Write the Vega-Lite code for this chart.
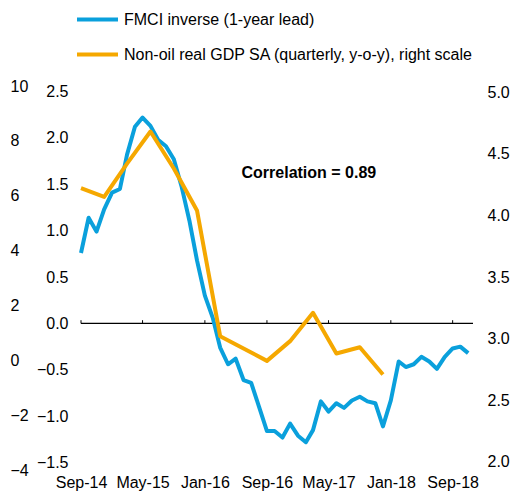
{
  "$schema": "https://vega.github.io/schema/vega-lite/v6.json",
  "width": 392,
  "height": 384,
  "autosize": {"type": "none"},
  "padding": {"left": 81, "top": 86, "right": 44, "bottom": 27},
  "background": "white",
  "config": {
    "view": {"stroke": null},
    "font": "Liberation Sans",
    "axis": {"labelFont": "Liberation Sans", "labelFontSize": 16, "labelColor": "#000000", "grid": false, "domain": false, "ticks": false},
    "legend": {"labelFont": "Liberation Sans", "labelFontSize": 16, "labelColor": "#000000", "labelLimit": 0}
  },
  "datasets": {
    "fmci": [
      {"date": "2014-09-01", "fmci": 0.76},
      {"date": "2014-10-01", "fmci": 1.14},
      {"date": "2014-11-01", "fmci": 0.99},
      {"date": "2014-12-01", "fmci": 1.23},
      {"date": "2015-01-01", "fmci": 1.41},
      {"date": "2015-02-01", "fmci": 1.45},
      {"date": "2015-03-01", "fmci": 1.82},
      {"date": "2015-04-01", "fmci": 2.12},
      {"date": "2015-05-01", "fmci": 2.22},
      {"date": "2015-06-01", "fmci": 2.13},
      {"date": "2015-07-01", "fmci": 1.98},
      {"date": "2015-08-01", "fmci": 1.91},
      {"date": "2015-09-01", "fmci": 1.77},
      {"date": "2015-10-01", "fmci": 1.48},
      {"date": "2015-11-01", "fmci": 1.11},
      {"date": "2015-12-01", "fmci": 0.68},
      {"date": "2016-01-01", "fmci": 0.30},
      {"date": "2016-02-01", "fmci": 0.06},
      {"date": "2016-03-01", "fmci": -0.26},
      {"date": "2016-04-01", "fmci": -0.44},
      {"date": "2016-05-01", "fmci": -0.38},
      {"date": "2016-06-01", "fmci": -0.61},
      {"date": "2016-07-01", "fmci": -0.64},
      {"date": "2016-08-01", "fmci": -0.90},
      {"date": "2016-09-01", "fmci": -1.16},
      {"date": "2016-10-01", "fmci": -1.16},
      {"date": "2016-11-01", "fmci": -1.23},
      {"date": "2016-12-01", "fmci": -1.08},
      {"date": "2017-01-01", "fmci": -1.21},
      {"date": "2017-02-01", "fmci": -1.28},
      {"date": "2017-03-01", "fmci": -1.15},
      {"date": "2017-04-01", "fmci": -0.84},
      {"date": "2017-05-01", "fmci": -0.95},
      {"date": "2017-06-01", "fmci": -0.86},
      {"date": "2017-07-01", "fmci": -0.91},
      {"date": "2017-08-01", "fmci": -0.83},
      {"date": "2017-09-01", "fmci": -0.79},
      {"date": "2017-10-01", "fmci": -0.84},
      {"date": "2017-11-01", "fmci": -0.86},
      {"date": "2017-12-01", "fmci": -1.11},
      {"date": "2018-01-01", "fmci": -0.83},
      {"date": "2018-02-01", "fmci": -0.41},
      {"date": "2018-03-01", "fmci": -0.47},
      {"date": "2018-04-01", "fmci": -0.44},
      {"date": "2018-05-01", "fmci": -0.36},
      {"date": "2018-06-01", "fmci": -0.41},
      {"date": "2018-07-01", "fmci": -0.49},
      {"date": "2018-08-01", "fmci": -0.36},
      {"date": "2018-09-01", "fmci": -0.27},
      {"date": "2018-10-01", "fmci": -0.25},
      {"date": "2018-11-01", "fmci": -0.32}
    ],
    "gdp": [
      {"date": "2014-09-01", "gdp": 4.22},
      {"date": "2014-12-01", "gdp": 4.15},
      {"date": "2015-03-01", "gdp": 4.42},
      {"date": "2015-06-01", "gdp": 4.68},
      {"date": "2015-09-01", "gdp": 4.38},
      {"date": "2015-12-01", "gdp": 4.04},
      {"date": "2016-03-01", "gdp": 3.02},
      {"date": "2016-06-01", "gdp": 2.92},
      {"date": "2016-09-01", "gdp": 2.82},
      {"date": "2016-12-01", "gdp": 2.98},
      {"date": "2017-03-01", "gdp": 3.21},
      {"date": "2017-06-01", "gdp": 2.88},
      {"date": "2017-09-01", "gdp": 2.93},
      {"date": "2017-12-01", "gdp": 2.71}
    ],
    "ticks": [
      {"date": "2014-09-01"},
      {"date": "2015-05-01"},
      {"date": "2016-01-01"},
      {"date": "2016-09-01"},
      {"date": "2017-05-01"},
      {"date": "2018-01-01"},
      {"date": "2018-09-01"}
    ],
    "notes": [
      {"label": "Correlation = 0.89"}
    ]
  },
  "layer": [
    {
      "data": {"name": "fmci"},
      "mark": {"type": "point", "opacity": 0},
      "encoding": {
        "x": {"field": "date", "type": "temporal",
          "scale": {"type": "utc", "domain": [{"year": 2014, "month": 9, "date": 1, "utc": true}, {"year": 2018, "month": 11, "date": 20, "utc": true}]},
          "axis": {"orient": "bottom", "title": null, "format": "%b-%y", "labelPadding": 4, "labelAlign": "center", "labelFlush": false, "labelOverlap": false,
            "values": [{"year": 2014, "month": 9, "date": 1, "utc": true}, {"year": 2015, "month": 5, "date": 1, "utc": true}, {"year": 2016, "month": 1, "date": 1, "utc": true}, {"year": 2016, "month": 9, "date": 1, "utc": true}, {"year": 2017, "month": 5, "date": 1, "utc": true}, {"year": 2018, "month": 1, "date": 1, "utc": true}, {"year": 2018, "month": 9, "date": 1, "utc": true}]}},
        "y": {"field": "fmci", "type": "quantitative", "scale": {"domain": [-4, 10], "nice": false, "zero": false},
          "axis": {"orient": "left", "title": null, "values": [-4, -2, 0, 2, 4, 6, 8, 10], "labelAlign": "left", "labelPadding": 71, "format": "d"}}
      }
    },
    {
      "data": {"name": "ticks"},
      "mark": {"type": "rule", "color": "#000000", "strokeWidth": 1},
      "encoding": {
        "x": {"field": "date", "type": "temporal"},
        "y": {"datum": 0, "type": "quantitative", "scale": {"domain": [-1.58, 2.56], "nice": false, "zero": false}, "axis": null},
        "y2": {"datum": 0.035}
      }
    },
    {
      "data": {"name": "notes"},
      "mark": {"type": "rule", "color": "#000000", "strokeWidth": 1.2},
      "encoding": {
        "y": {"datum": 0, "type": "quantitative", "scale": {"domain": [-1.58, 2.56], "nice": false, "zero": false}, "axis": null}
      }
    },
    {
      "data": {"name": "fmci"},
      "mark": {"type": "line", "strokeWidth": 4, "strokeJoin": "round"},
      "encoding": {
        "x": {"field": "date", "type": "temporal"},
        "y": {"field": "fmci", "type": "quantitative", "scale": {"domain": [-1.58, 2.56], "nice": false, "zero": false},
          "axis": {"orient": "left", "title": null, "values": [-1.5, -1, -0.5, 0, 0.5, 1, 1.5, 2, 2.5], "format": ".1f", "labelPadding": 13}},
        "color": {"datum": "FMCI inverse (1-year lead)", "type": "nominal",
          "scale": {"domain": ["FMCI inverse (1-year lead)", "Non-oil real GDP SA (quarterly, y-o-y), right scale"], "range": ["#0AA0DC", "#F5A800"]},
          "legend": {"title": null, "orient": "none", "legendX": -6, "legendY": -89, "direction": "vertical", "symbolType": "stroke", "symbolSize": 1681, "symbolStrokeWidth": 4, "labelOffset": 4, "rowPadding": 4, "padding": 0, "labelLimit": 0}}
      }
    },
    {
      "data": {"name": "gdp"},
      "mark": {"type": "line", "strokeWidth": 4, "strokeJoin": "round"},
      "encoding": {
        "x": {"field": "date", "type": "temporal"},
        "y": {"field": "gdp", "type": "quantitative", "scale": {"domain": [1.935, 5.049], "nice": false, "zero": false},
          "axis": {"orient": "right", "title": null, "values": [2, 2.5, 3, 3.5, 4, 4.5, 5], "format": ".1f", "labelAlign": "left", "labelPadding": 14}},
        "color": {"datum": "Non-oil real GDP SA (quarterly, y-o-y), right scale", "type": "nominal"}
      }
    },
    {
      "data": {"name": "notes"},
      "mark": {"type": "text", "font": "Liberation Sans", "fontSize": 16, "fontWeight": "bold", "align": "left", "baseline": "middle", "color": "#000000"},
      "encoding": {
        "text": {"field": "label"},
        "x": {"datum": {"year": 2016, "month": 5, "date": 24, "utc": true}, "type": "temporal"},
        "y": {"datum": 1.62, "type": "quantitative", "scale": {"domain": [-1.58, 2.56], "nice": false, "zero": false}, "axis": null}
      }
    }
  ],
  "resolve": {"scale": {"y": "independent"}}
}
